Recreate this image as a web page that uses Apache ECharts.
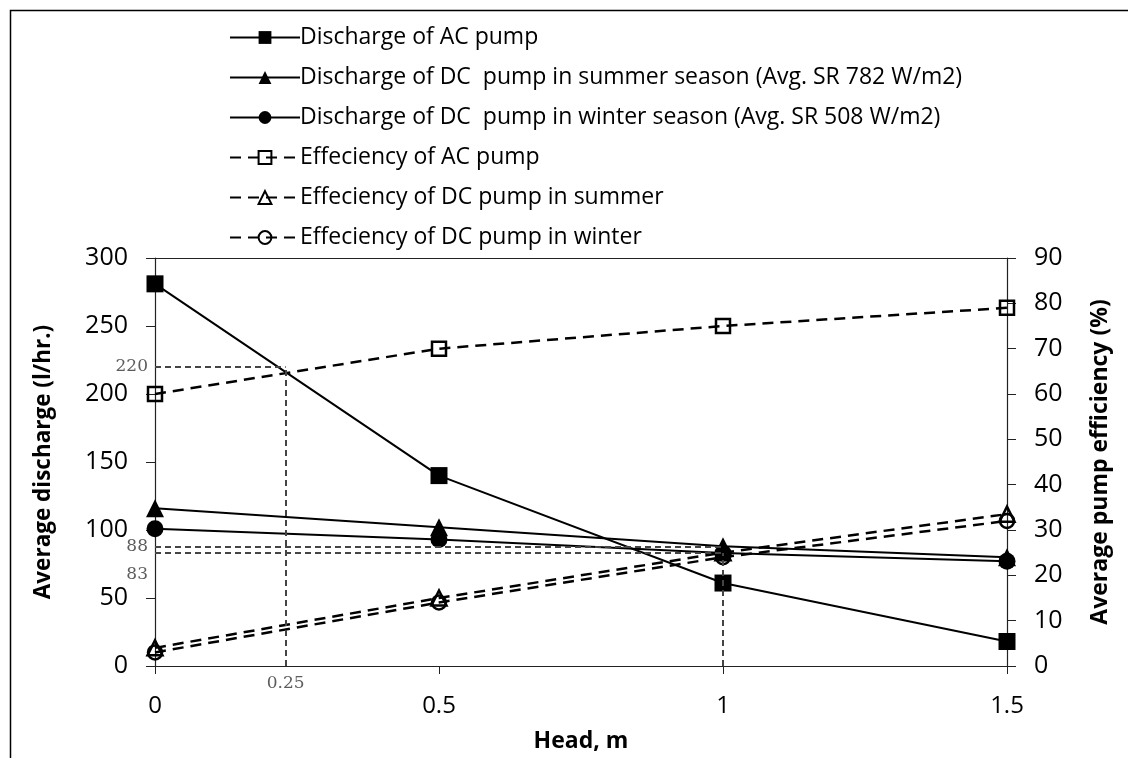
<!DOCTYPE html>
<html>
<head>
<meta charset="utf-8">
<script src="https://cdn.jsdelivr.net/npm/echarts@6/dist/echarts.min.js"></script>
<style>
html,body{margin:0;padding:0;background:#fff;}
#chart{width:1128px;height:758px;}
</style>
</head>
<body>
<div id="chart"></div>
<script>
// ---- data ----
const heads = [0, 0.5, 1, 1.5];
const dischargeAC = [281, 140, 61, 18];
const dischargeDCSummer = [116, 102, 88, 80];
const dischargeDCWinter = [101, 93, 83, 77];
const effAC = [60, 70, 75, 79];
const effDCSummer = [4, 15, 25, 33.5];
const effDCWinter = [3, 14, 24, 32];

const seriesNames = [
  'Discharge of AC pump',
  'Discharge of DC  pump in summer season (Avg. SR 782 W/m2)',
  'Discharge of DC  pump in winter season (Avg. SR 508 W/m2)',
  'Effeciency of AC pump',
  'Effeciency of DC pump in summer',
  'Effeciency of DC pump in winter'
];

// guide lines (discharge units): [x1, y1, x2, y2]
const guideLines = [
  [0, 220, 0.23, 220],
  [0.23, 0, 0.23, 220],
  [0, 88, 1, 88],
  [0, 83, 1, 83],
  [1, 0, 1, 83]
];
// guide labels: [x, y] and text
const guideLabelPos = [[0, 220], [0, 88], [0, 83], [0.23, 0]];
const guideLabelText = ['220', '88', '83', '0.25'];

const leftTitle = 'Average discharge (l/hr.)';
const rightTitle = 'Average pump efficiency (%)';
const xTitle = 'Head, m';

// ---- chart ----
const FONT = 'Open Sans';
const pairs = arr => heads.map((h, i) => [h, arr[i]]);

function solidSeries(name, data, symbol, size) {
  return {
    name, type: 'line', yAxisIndex: 0, data: pairs(data),
    symbol, symbolSize: size,
    lineStyle: {color: '#000', width: 2, type: 'solid'},
    itemStyle: {color: '#000', borderColor: '#000', borderWidth: 0},
    emphasis: {disabled: true}, z: 3
  };
}
function dashedSeries(name, data, symbol, size) {
  return {
    name, type: 'line', yAxisIndex: 1, data: pairs(data),
    symbol, symbolSize: size,
    lineStyle: {color: '#000', width: 2.5, type: [11, 7]},
    itemStyle: {color: 'rgba(255,255,255,0)', borderColor: '#000', borderWidth: 2.5},
    emphasis: {disabled: true}, z: 4
  };
}

const labelItems = guideLabelPos.map((p, i) => {
  const isX = i === 3;
  return {
    value: p,
    label: {
      show: true,
      formatter: guideLabelText[i],
      position: isX ? 'bottom' : 'left',
      distance: isX ? 9 : 7,
      offset: i === 2 ? [0, 21] : [0, 0],
      fontFamily: 'DejaVu Serif', fontSize: 17, color: '#333'
    }
  };
});

const option = {
  animation: false,
  backgroundColor: '#fff',
  graphic: [{
    type: 'rect', left: 8, top: 8,
    shape: {width: 1300, height: 900},
    style: {fill: 'none', stroke: '#000', lineWidth: 1.5},
    silent: true, z: -10
  }],
  legend: {
    data: seriesNames,
    orient: 'vertical', left: 224, top: 21,
    itemWidth: 70, itemHeight: 16, itemGap: 17,
    textStyle: {fontFamily: FONT, fontSize: 23, color: '#000', lineHeight: 22, padding: [0, 0, 0, -5]},
    selectedMode: false
  },
  grid: {left: 155, right: 121, top: 258, bottom: 92},
  xAxis: [{
    type: 'value', min: 0, max: 1.5, interval: 0.5,
    position: 'bottom',
    name: xTitle, nameLocation: 'middle', nameGap: 64,
    nameTextStyle: {fontFamily: FONT, fontSize: 23, fontWeight: 'bold', color: '#000'},
    axisLine: {show: true, onZero: false, lineStyle: {color: '#222', width: 1.2}},
    axisTick: {show: true, length: 8, inside: false, lineStyle: {color: '#222'}},
    axisLabel: {fontFamily: FONT, fontSize: 24, color: '#000', margin: 28},
    splitLine: {show: false}
  }, {
    type: 'value', min: 0, max: 1.5, position: 'top',
    axisLine: {show: true, onZero: false, lineStyle: {color: '#222', width: 1.2}},
    axisTick: {show: false}, axisLabel: {show: false}, splitLine: {show: false}
  }],
  yAxis: [{
    type: 'value', min: 0, max: 300, interval: 50, position: 'left',
    name: leftTitle, nameLocation: 'middle', nameGap: 100, nameRotate: 90,
    nameTextStyle: {fontFamily: FONT, fontSize: 22.5, fontWeight: 'bold', color: '#000'},
    axisLine: {show: true, onZero: false, lineStyle: {color: '#222', width: 1.2}},
    axisTick: {show: true, length: 9, lineStyle: {color: '#222'}},
    axisLabel: {fontFamily: FONT, fontSize: 25, color: '#000', margin: 27},
    splitLine: {show: false}
  }, {
    type: 'value', min: 0, max: 90, interval: 10, position: 'right',
    name: rightTitle, nameLocation: 'middle', nameGap: 82, nameRotate: 90,
    nameTextStyle: {fontFamily: FONT, fontSize: 23, fontWeight: 'bold', color: '#000'},
    axisLine: {show: true, onZero: false, lineStyle: {color: '#222', width: 1.2}},
    axisTick: {show: true, length: 9, lineStyle: {color: '#222'}},
    axisLabel: {fontFamily: FONT, fontSize: 25, color: '#000', margin: 27},
    splitLine: {show: false}
  }],
  series: [
    {
      name: 'guides', type: 'line', yAxisIndex: 0, data: [],
      silent: true, z: 1,
      markLine: {
        silent: true, symbol: 'none', animation: false,
        label: {show: false},
        lineStyle: {color: '#444', width: 2, type: [6, 4]},
        emphasis: {disabled: true},
        data: guideLines.map(g => [{coord: [g[0], g[1]]}, {coord: [g[2], g[3]]}])
      }
    },
    {
      name: 'guideLabels', type: 'scatter', yAxisIndex: 0,
      symbolSize: 0, silent: true, z: 2,
      data: labelItems
    },
    solidSeries(seriesNames[0], dischargeAC, 'rect', 17),
    solidSeries(seriesNames[1], dischargeDCSummer, 'triangle', 18),
    solidSeries(seriesNames[2], dischargeDCWinter, 'circle', 17),
    dashedSeries(seriesNames[3], effAC, 'rect', 14),
    dashedSeries(seriesNames[4], effDCSummer, 'triangle', 15),
    dashedSeries(seriesNames[5], effDCWinter, 'circle', 14)
  ]
};

const chart = echarts.init(document.getElementById('chart'), null, {renderer: 'canvas'});
chart.setOption(option);
</script>
</body>
</html>
